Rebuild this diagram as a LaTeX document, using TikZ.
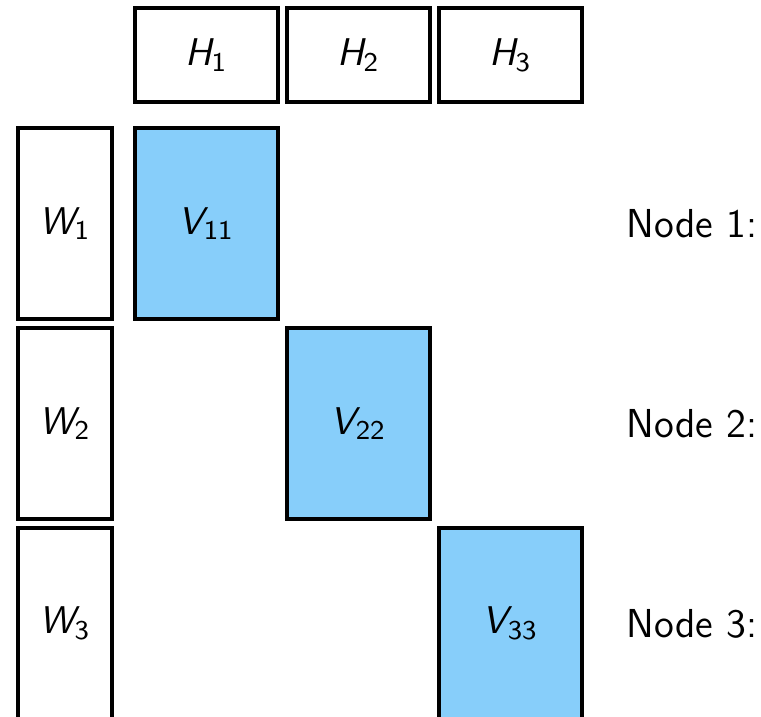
\documentclass[tikz,border=0pt]{standalone}
\usepackage{fontspec}
\definecolor{vblue}{RGB}{135,206,250}
\newcommand{\lbl}[2]{{\itshape #1}\textsubscript{#2}}

\begin{document}
\begin{tikzpicture}[line join=miter, line width=0.9pt, font=\sffamily]

  \tikzstyle{hbox}=[draw, minimum width=1.43cm, minimum height=0.94cm, inner sep=0pt, font=\sffamily\fontsize{11}{13}\selectfont]
  \tikzstyle{wbox}=[draw, minimum width=0.94cm, minimum height=1.91cm, inner sep=0pt, font=\sffamily\fontsize{11}{13}\selectfont]
  \tikzstyle{vbox}=[wbox, fill=vblue, minimum width=1.43cm]
  \tikzstyle{tag}=[anchor=west, inner sep=0pt, font=\sffamily\fontsize{11.5}{14}\selectfont]
  \def\colx{1.52}
  \def\rowy{2.0}

  \useasboundingbox (0,0) rectangle (7.61,-7.17);

  % column heads, row heads and the diagonal blocks
  \foreach \i in {1,2,3} {
    \node[hbox] (h\i) at ({0.545+\i*\colx},-0.55) {\lbl{H}{\i}};
    \node[wbox] (w\i) at (0.65,{-0.235-\i*\rowy}) {\lbl{W}{\i}};
    \node[vbox] (v\i\i) at (h\i |- w\i) {\lbl{V}{\i\i}};
    \node[tag] (n\i) at (6.25,{-0.235-\i*\rowy}) {Node \i:};
  }

\end{tikzpicture}
\end{document}
